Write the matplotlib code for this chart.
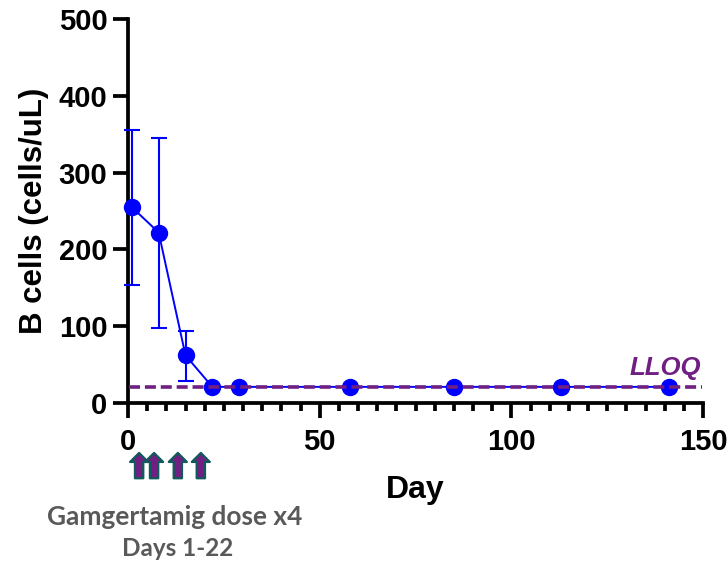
import matplotlib
matplotlib.use("Agg")
import matplotlib.pyplot as plt
from matplotlib.ticker import MultipleLocator

# Values
days = [1, 8, 15, 22, 29, 58, 85, 113, 141]
bcells = [255, 222, 62, 21, 21, 21, 21, 21, 21]
err_upper = [100, 123, 32, 0, 0, 0, 0, 0, 0]
err_lower = [101, 124, 33, 0, 0, 0, 0, 0, 0]
lloq = 21
dose_x = [2.9, 6.8, 13, 19]

blue = "#0000ff"
purple = "#702082"
teal = "#0f5a5a"
grey = "#595959"

plt.rcParams["font.family"] = ["Liberation Sans", "DejaVu Sans"]

fig = plt.figure(figsize=(7.27, 5.63), dpi=100)
ax = fig.add_axes([128 / 727, 160 / 563, 575 / 727, 384 / 563])

ax.errorbar(days, bcells, yerr=[err_lower, err_upper], color=blue, lw=1.4, marker="o",
            ms=11.5, capsize=5.5, capthick=1.5, elinewidth=1.5, clip_on=False, zorder=3)
ax.plot([0.3, 149.7], [lloq, lloq], color=purple, lw=2.6, dashes=(3.05, 1.35), zorder=4)
ax.text(149.5, 30, "LLOQ", color=purple, fontsize=18.5, fontweight="bold", style="italic", ha="right", va="bottom")

ax.set_xlim(0, 150)
ax.set_ylim(0, 500)
ax.xaxis.set_major_locator(MultipleLocator(50))
ax.xaxis.set_minor_locator(MultipleLocator(5))
ax.yaxis.set_major_locator(MultipleLocator(100))
ax.spines[["top", "right"]].set_visible(False)
ax.spines[["left", "bottom"]].set_linewidth(2.7)
ax.tick_params(which="major", length=10.8, width=2.7, labelsize=21, pad=4)
ax.tick_params(axis="x", which="major", pad=7)
ax.tick_params(axis="x", which="minor", length=6, width=2.7)
for lab in ax.get_xticklabels() + ax.get_yticklabels():
    lab.set_fontweight("bold")
ax.set_xlabel("Day", fontsize=23, fontweight="bold", labelpad=14)
ax.set_ylabel("B cells (cells/uL)", fontsize=22.5, fontweight="bold", labelpad=7)

# dose arrows under the x axis
trans = ax.get_xaxis_transform()
for d in dose_x:
    ax.annotate("", xy=(d, -0.13), xytext=(d, -0.196), xycoords=trans, textcoords=trans,
                annotation_clip=False,
                arrowprops=dict(arrowstyle="simple,head_length=0.65,head_width=1.3,tail_width=0.6",
                                fc=purple, ec=teal, lw=1.6, shrinkA=0, shrinkB=0))

fig.text(175 / 727, 1 - 517 / 563, "Gamgertamig dose x4", color=grey, fontsize=18.9,
         fontweight="bold", family="Lato", ha="center", va="center")
fig.text(178 / 727, 1 - 549 / 563, "Days 1-22", color=grey, fontsize=17.5,
         fontweight="bold", family="Lato", ha="center", va="center")

fig.savefig("out.png", dpi=100)
